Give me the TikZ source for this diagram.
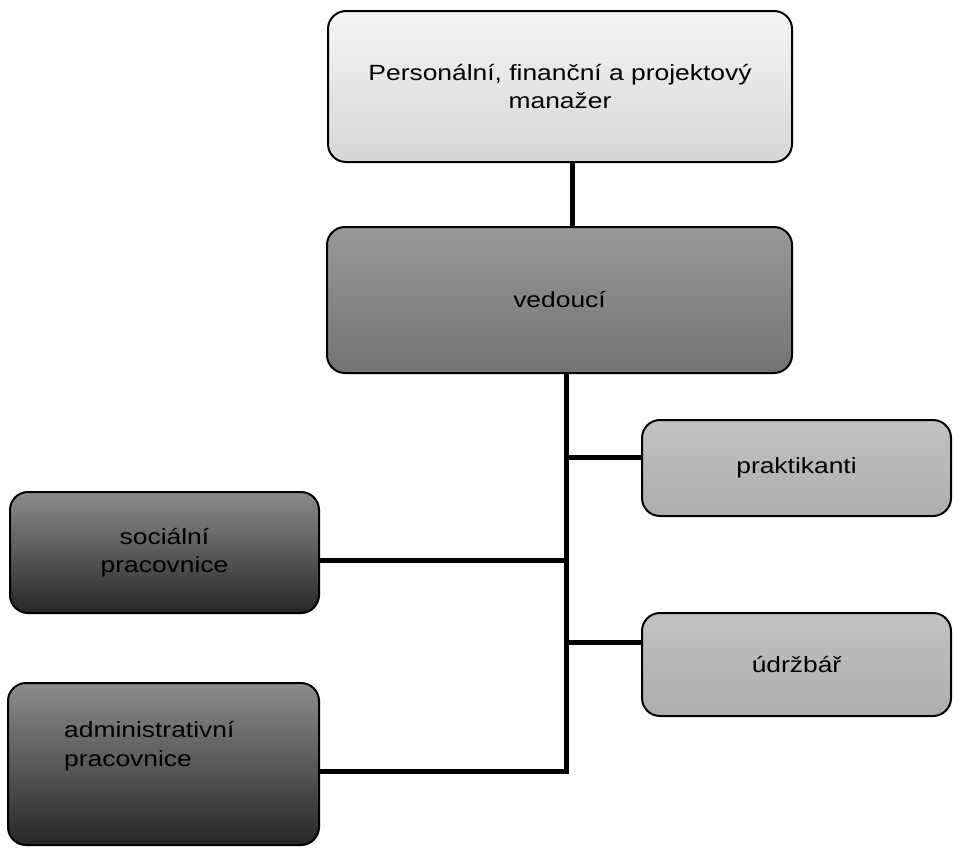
\documentclass[tikz,border=0pt]{standalone}
\usepackage{fontspec}
\setmainfont[FakeStretch=1.2]{Liberation Sans}

\begin{document}
\begin{tikzpicture}[x=1pt,y=-1pt,
    box/.style={draw,line width=2pt,rounded corners=18pt,align=center,
      font=\fontsize{22}{28.5}\selectfont,inner sep=0pt},
    link/.style={line width=5pt}]
\useasboundingbox (0,0) rectangle (953,849);
\node[box,minimum width=464pt,minimum height=151pt,top color=black!4,bottom color=black!16] (boss) at (560,86.5) {Personální, finanční a projektový\\manažer};
\node[box,minimum width=465pt,minimum height=146pt,top color=black!40,bottom color=black!55] (head) at (559.5,300) {vedoucí};
\node[box,minimum width=309pt,minimum height=96pt,top color=black!24,bottom color=black!32] (prakt) at (796.5,468) {praktikanti};
\node[box,minimum width=309pt,minimum height=103pt,top color=black!24,bottom color=black!32] (udrz) at (796.5,664.5) {údržbář};
\node[box,minimum width=309pt,minimum height=121pt,top color=black!45,bottom color=black!85] (soc) at (164.5,552.5) {sociální\\pracovnice};
\node[box,minimum width=311pt,minimum height=162pt,top color=black!45,bottom color=black!85] (admin) at (163.5,764) {};
\node[anchor=west,align=left,inner sep=0pt,font=\fontsize{22}{28.5}\selectfont] (admintext) at ([xshift=57pt,yshift=18pt]admin.west) {administrativní\\pracovnice};
% trunk and branches
\coordinate (top) at (572,0);
\coordinate (tr) at (566,0);
\coordinate (b1) at (566,457);
\coordinate (b2) at (566,560);
\coordinate (b3) at (566,642);
\coordinate (b4) at (566,771);
\draw[link] (boss.south -| top) -- (head.north -| top);
\draw[link] (head.south -| tr) -- (b4) -- (b4 -| admin.east);
\draw[link] (b1) -- (b1 -| prakt.west);
\draw[link] (b2) -- (b2 -| soc.east);
\draw[link] (b3) -- (b3 -| udrz.west);
\end{tikzpicture}
\end{document}
